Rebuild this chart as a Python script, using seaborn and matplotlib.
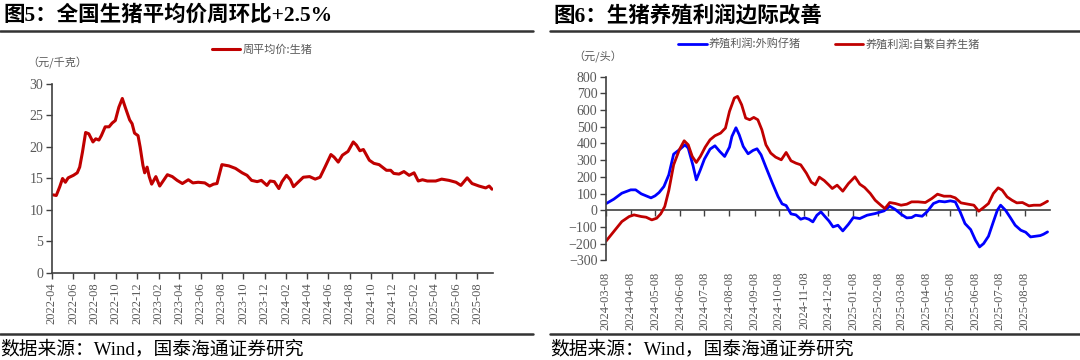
import seaborn as sns
import matplotlib.pyplot as plt
import matplotlib.dates as mdates
from matplotlib.lines import Line2D
import pandas as pd

# 图5：周平均价:生猪（元/千克）
pig_dates = ["2022-04-05", "2022-04-14", "2022-04-24", "2022-05-02", "2022-05-10", "2022-05-18",
             "2022-06-02", "2022-06-13", "2022-06-20", "2022-06-28", "2022-07-07", "2022-07-16",
             "2022-07-28", "2022-08-05", "2022-08-14", "2022-08-21", "2022-09-01", "2022-09-12",
             "2022-09-21", "2022-09-30", "2022-10-10", "2022-10-20", "2022-10-29", "2022-11-10",
             "2022-11-17", "2022-11-24", "2022-12-04", "2022-12-10", "2022-12-18", "2022-12-23",
             "2022-12-30", "2023-01-05", "2023-01-12", "2023-01-24", "2023-02-04", "2023-02-15",
             "2023-02-26", "2023-03-12", "2023-03-26", "2023-04-10", "2023-04-27", "2023-05-10",
             "2023-05-25", "2023-06-13", "2023-06-27", "2023-07-08", "2023-07-18", "2023-08-01",
             "2023-08-21", "2023-09-09", "2023-09-28", "2023-10-12", "2023-10-25", "2023-11-10",
             "2023-11-22", "2023-12-08", "2023-12-17", "2023-12-29", "2024-01-11", "2024-01-20",
             "2024-02-02", "2024-02-13", "2024-02-22", "2024-03-04", "2024-03-21", "2024-04-08",
             "2024-04-24", "2024-05-08", "2024-05-22", "2024-06-08", "2024-06-17", "2024-06-29",
             "2024-07-11", "2024-07-27", "2024-08-11", "2024-08-20", "2024-08-30", "2024-09-09",
             "2024-09-26", "2024-10-09", "2024-10-24", "2024-11-14", "2024-11-26", "2024-12-05",
             "2024-12-20", "2025-01-03", "2025-01-18", "2025-02-01", "2025-02-13", "2025-02-25",
             "2025-03-11", "2025-04-04", "2025-04-21", "2025-05-12", "2025-06-01", "2025-06-15",
             "2025-06-24", "2025-07-03", "2025-07-17", "2025-08-06", "2025-08-25", "2025-09-04",
             "2025-09-12"]
pig_price = [12.4, 12.3, 13.7, 15.0, 14.4, 15.1, 15.5, 15.9, 16.8, 19.2, 22.3, 22.1,
             20.8, 21.3, 21.1, 21.8, 23.2, 23.2, 23.8, 24.2, 26.3, 27.7, 26.2, 24.3,
             23.7, 22.2, 21.8, 20.0, 17.1, 15.9, 16.8, 15.3, 14.1, 15.3, 13.8, 14.7,
             15.6, 15.3, 14.7, 14.2, 14.8, 14.3, 14.4, 14.3, 13.8, 14.1, 14.2, 17.2,
             17.0, 16.6, 15.9, 15.5, 14.7, 14.5, 14.7, 13.9, 14.6, 14.5, 13.4, 14.5,
             15.5, 14.8, 13.7, 14.3, 15.2, 15.3, 14.9, 15.2, 16.8, 18.8, 18.4, 17.6,
             18.7, 19.3, 20.8, 20.3, 19.4, 19.6, 17.9, 17.4, 17.2, 16.3, 16.3, 15.8,
             15.7, 16.1, 15.5, 15.9, 14.6, 14.8, 14.6, 14.6, 14.9, 14.7, 14.4, 13.9,
             14.5, 15.1, 14.2, 13.8, 13.5, 13.8, 13.3]

# 图6：养殖利润（元/头）
buy_dates = ["2024-03-08", "2024-03-18", "2024-03-28", "2024-04-08", "2024-04-14", "2024-04-21",
             "2024-04-27", "2024-05-03", "2024-05-08", "2024-05-13", "2024-05-19", "2024-05-25",
             "2024-05-31", "2024-06-07", "2024-06-14", "2024-06-18", "2024-06-24", "2024-06-28",
             "2024-07-03", "2024-07-08", "2024-07-15", "2024-07-21", "2024-07-27", "2024-08-02",
             "2024-08-08", "2024-08-11", "2024-08-16", "2024-08-20", "2024-08-25", "2024-08-31",
             "2024-09-06", "2024-09-11", "2024-09-16", "2024-09-22", "2024-09-30", "2024-10-07",
             "2024-10-12", "2024-10-17", "2024-10-23", "2024-10-29", "2024-11-04", "2024-11-09",
             "2024-11-14", "2024-11-19", "2024-11-24", "2024-11-29", "2024-12-04", "2024-12-09",
             "2024-12-14", "2024-12-20", "2024-12-26", "2025-01-02", "2025-01-08", "2025-01-16",
             "2025-01-25", "2025-02-04", "2025-02-15", "2025-02-22", "2025-03-01", "2025-03-08",
             "2025-03-15", "2025-03-21", "2025-03-26", "2025-04-03", "2025-04-09", "2025-04-17",
             "2025-04-24", "2025-05-01", "2025-05-08", "2025-05-14", "2025-05-20", "2025-05-26",
             "2025-06-02", "2025-06-08", "2025-06-13", "2025-06-18", "2025-06-24", "2025-06-30",
             "2025-07-05", "2025-07-09", "2025-07-15", "2025-07-21", "2025-07-27", "2025-08-03",
             "2025-08-09", "2025-08-15", "2025-08-21", "2025-08-27", "2025-08-31", "2025-09-05"]
buy_profit = [38, 66, 102, 122, 122, 98, 86, 74, 86, 106, 142, 212,
              336, 362, 392, 372, 266, 182, 242, 306, 366, 386, 352, 322,
              378, 442, 494, 452, 382, 338, 358, 368, 332, 258, 162, 82,
              38, 28, -22, -28, -54, -46, -54, -70, -30, -10, -38, -65,
              -100, -90, -124, -84, -44, -50, -30, -20, -4, 24, 4, -24,
              -46, -44, -30, -36, -10, 40, 54, 50, 56, 50, -10, -80,
              -116, -180, -220, -200, -156, -70, 0, 30, 0, -44, -90, -120,
              -132, -160, -156, -152, -144, -130]

self_dates = ["2024-03-08", "2024-03-18", "2024-03-28", "2024-04-06", "2024-04-12", "2024-04-21",
              "2024-04-27", "2024-05-04", "2024-05-10", "2024-05-15", "2024-05-20", "2024-05-25",
              "2024-05-31", "2024-06-07", "2024-06-13", "2024-06-18", "2024-06-23", "2024-06-28",
              "2024-07-03", "2024-07-09", "2024-07-15", "2024-07-21", "2024-07-28", "2024-08-03",
              "2024-08-08", "2024-08-14", "2024-08-18", "2024-08-23", "2024-08-28", "2024-09-02",
              "2024-09-07", "2024-09-12", "2024-09-17", "2024-09-22", "2024-09-28", "2024-10-04",
              "2024-10-11", "2024-10-17", "2024-10-23", "2024-10-29", "2024-11-04", "2024-11-11",
              "2024-11-17", "2024-11-22", "2024-11-27", "2024-12-03", "2024-12-09", "2024-12-13",
              "2024-12-19", "2024-12-26", "2025-01-02", "2025-01-10", "2025-01-16", "2025-01-22",
              "2025-01-29", "2025-02-04", "2025-02-11", "2025-02-16", "2025-02-22", "2025-03-01",
              "2025-03-08", "2025-03-15", "2025-03-21", "2025-03-29", "2025-04-07", "2025-04-15",
              "2025-04-22", "2025-04-30", "2025-05-08", "2025-05-14", "2025-05-21", "2025-05-30",
              "2025-06-06", "2025-06-12", "2025-06-18", "2025-06-24", "2025-06-30", "2025-07-06",
              "2025-07-11", "2025-07-17", "2025-07-23", "2025-07-29", "2025-08-05", "2025-08-13",
              "2025-08-19", "2025-08-27", "2025-08-31", "2025-09-05"]
self_profit = [-188, -128, -68, -38, -28, -38, -42, -58, -48, -22, 22, 118,
               272, 362, 416, 392, 322, 286, 322, 378, 422, 446, 462, 492,
               592, 672, 682, 632, 552, 542, 556, 542, 482, 392, 342, 318,
               302, 346, 296, 282, 272, 222, 168, 152, 198, 178, 150, 130,
               150, 114, 160, 200, 156, 136, 100, 60, 30, 10, 46, 40,
               30, 36, 50, 50, 46, 70, 96, 84, 84, 74, 44, 36,
               30, -6, 16, 40, 100, 134, 120, 80, 60, 44, 46, 26,
               30, 30, 40, 54]

pig_df = pd.DataFrame({"date": pd.to_datetime(pig_dates), "price": pig_price})
buy_df = pd.DataFrame({"date": pd.to_datetime(buy_dates), "profit": buy_profit})
self_df = pd.DataFrame({"date": pd.to_datetime(self_dates), "profit": self_profit})

sns.set_theme(style="white")
plt.rcParams["font.family"] = ["Liberation Serif", "Noto Sans CJK SC", "DejaVu Sans"]
CJK = ["Noto Sans CJK SC", "DejaVu Sans"]
MIX = ["Liberation Serif", "Noto Sans CJK SC"]
GREY = "#595959"
AXC = "#404040"
RED = "#C00000"
BLUE = "#0000FF"

fig = plt.figure(figsize=(10.8, 3.6), dpi=100)
ax1 = fig.add_axes([0.0479, 0.2417, 0.4086, 0.525])
ax2 = fig.add_axes([0.5608, 0.277, 0.4114, 0.51])

# 左图
sns.lineplot(data=pig_df, x="date", y="price", ax=ax1, color=RED, lw=2.2, label="周平均价:生猪")
ax1.set_ylim(0, 30)
ax1.set_yticks(range(0, 31, 5))
ax1.set_xlim(pd.Timestamp("2022-04-01"), pd.Timestamp("2025-09-15"))
ax1.set_xticks(pd.date_range("2022-04-01", "2025-08-01", freq="2MS"))
ax1.xaxis.set_major_formatter(mdates.DateFormatter("%Y-%m"))

# 右图
sns.lineplot(data=buy_df, x="date", y="profit", ax=ax2, color=BLUE, lw=2.0, label="养殖利润:外购仔猪")
sns.lineplot(data=self_df, x="date", y="profit", ax=ax2, color=RED, lw=2.0, label="养殖利润:自繁自养生猪")
ax2.set_ylim(-300, 800)
ax2.set_yticks(range(-300, 801, 100))
ax2.set_xlim(pd.Timestamp("2024-03-08"), pd.Timestamp("2025-09-08"))
r_ticks = pd.date_range("2024-03-01", "2025-08-01", freq="MS") + pd.Timedelta(days=7)
ax2.set_xticks(r_ticks)
ax2.xaxis.set_major_formatter(mdates.DateFormatter("%Y-%m-%d"))
# 零轴上的刻度线
zero_ax = ax2.secondary_xaxis(300 / 1100)
zero_ax.set_xticks(mdates.date2num(r_ticks))
zero_ax.set_xticklabels([])
zero_ax.tick_params(direction="out", length=4, width=1, color=AXC)
zero_ax.spines["bottom"].set_color(AXC)
zero_ax.spines["bottom"].set_linewidth(1.2)

for ax in (ax1, ax2):
    ax.set_xlabel("")
    ax.set_ylabel("")
    for s in ("top", "right"):
        ax.spines[s].set_visible(False)
    ax.spines["left"].set_color(AXC)
    ax.spines["left"].set_linewidth(1.2)
    ax.tick_params(axis="y", direction="out", length=4, width=1, color=AXC,
                   labelsize=10, labelcolor=GREY, pad=2, left=True)
    ax.tick_params(axis="x", rotation=90, labelsize=9, labelcolor=GREY, pad=3)
    for lab in ax.get_xticklabels() + ax.get_yticklabels():
        lab.set_family("Liberation Serif")

ax1.spines["bottom"].set_color(AXC)
ax1.spines["bottom"].set_linewidth(1.2)
ax1.tick_params(axis="x", direction="out", length=4, width=1, color=AXC, bottom=True)
ax2.spines["bottom"].set_visible(False)
ax2.tick_params(axis="x", length=0, bottom=False, pad=8)

# 图例
leg1 = ax1.legend(loc="center", bbox_to_anchor=(262 / 1080, 1 - 50 / 360),
                  bbox_transform=fig.transFigure, frameon=False, handlelength=2.6,
                  handletextpad=0.2, prop={"family": CJK, "size": 8})
leg2 = ax2.legend(loc="center", bbox_to_anchor=(829 / 1080, 1 - 44 / 360),
                  bbox_transform=fig.transFigure, frameon=False, ncol=2, handlelength=2.6,
                  handletextpad=0.2, columnspacing=3.0, prop={"family": CJK, "size": 8})
for leg in (leg1, leg2):
    for t in leg.get_texts():
        t.set_color(GREY)

# 标题、单位、分隔线与来源
fig.text(0.003, 1 - 16 / 360, "图5：全国生猪平均价周环比+2.5%", family=MIX, weight="bold",
         fontsize=15.5, va="center", ha="left", color="black")
fig.text(553 / 1080, 1 - 16 / 360, "图6：生猪养殖利润边际改善", family=MIX, weight="bold",
         fontsize=15.5, va="center", ha="left", color="black")
fig.text(27 / 1080, 1 - 63 / 360, "（元/千克）", family=CJK, fontsize=8, color=GREY, va="center")
fig.text(573 / 1080, 1 - 57 / 360, "（元/头）", family=CJK, fontsize=8, color=GREY, va="center")

for x0, x1 in ((0.0, 533 / 1080), (550 / 1080, 1.0)):
    fig.add_artist(Line2D([x0, x1], [1 - 31 / 360] * 2, transform=fig.transFigure, color="#333333", lw=1.8))
    fig.add_artist(Line2D([x0, x1], [1 - 334 / 360] * 2, transform=fig.transFigure, color="#333333", lw=1.8))

fig.text(0.0, 1 - 349 / 360, "数据来源：Wind，国泰海通证券研究", family=MIX, fontsize=13.5,
         va="center", ha="left", color="black")
fig.text(550 / 1080, 1 - 349 / 360, "数据来源：Wind，国泰海通证券研究", family=MIX, fontsize=13.5,
         va="center", ha="left", color="black")

fig.savefig("out.png", dpi=100)
